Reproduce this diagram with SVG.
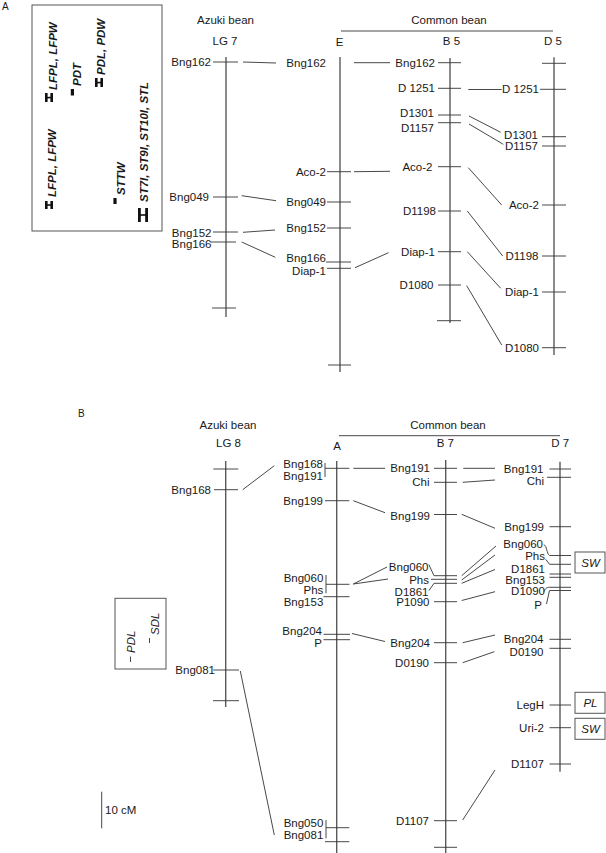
<svg xmlns="http://www.w3.org/2000/svg" width="606" height="853" viewBox="0 0 606 853">
<style>
.t{font-family:"Liberation Sans",Arial,sans-serif;font-size:11.5px;fill:#1a1a1a}
.e{text-anchor:end}
.m{text-anchor:middle}
.q{font-style:italic;font-weight:bold}
.i{font-style:italic}
.chr{stroke:#5a5a5a;stroke-width:1.4;fill:none}
.tk{stroke:#333;stroke-width:0.9;fill:none}
.cn{stroke:#333;stroke-width:0.9;fill:none}
.box{fill:none;stroke:#555;stroke-width:1}
.bar{fill:#111}
</style>
<rect width="606" height="853" fill="#fff"/>

<!-- Panel A -->
<g id="panelA-labels">
<text class="t" x="2" y="9.5" style="font-size:10px">A</text>
<text class="t m" x="225.5" y="24">Azuki bean</text>
<text class="t m" x="225" y="45">LG 7</text>
<text class="t m" x="449" y="24">Common bean</text>
<line class="tk" x1="341" y1="31" x2="553" y2="31"/>
<text class="t m" x="339.5" y="46">E</text>
<text class="t m" x="451.5" y="45">B 5</text>
<text class="t m" x="553" y="45">D 5</text>
</g>

<g id="qtl-box-A">
<rect class="box" x="32" y="5" width="130" height="226"/>
<rect class="bar" x="45" y="93" width="2.6" height="9"/><rect class="bar" x="50.4" y="93" width="2.6" height="9"/><rect class="bar" x="45" y="96.8" width="8" height="1.6"/>
<text class="t q" transform="translate(56.5,90) rotate(-90)">LFPL, LFPW</text>
<rect class="bar" x="70.8" y="89" width="3.2" height="6.5"/>
<text class="t q" transform="translate(80.5,86) rotate(-90)">PDT</text>
<rect class="bar" x="95" y="78" width="2.6" height="9"/><rect class="bar" x="100.4" y="78" width="2.6" height="9"/><rect class="bar" x="95" y="81.8" width="8" height="1.6"/>
<text class="t q" transform="translate(104.5,75) rotate(-90)">PDL, PDW</text>
<rect class="bar" x="45" y="201" width="2.6" height="8"/><rect class="bar" x="50.4" y="201" width="2.6" height="8"/><rect class="bar" x="45" y="204.2" width="8" height="1.6"/>
<text class="t q" transform="translate(55.5,197) rotate(-90)">LFPL, LFPW</text>
<rect class="bar" x="113.4" y="198" width="3.2" height="6"/>
<text class="t q" transform="translate(125,195) rotate(-90)">STTW</text>
<rect class="bar" x="138" y="208" width="2.8" height="14"/><rect class="bar" x="145.2" y="208" width="2.8" height="14"/><rect class="bar" x="138" y="214.2" width="10" height="1.6"/>
<text class="t q" transform="translate(148,202) rotate(-90)">ST7l, ST9l, ST10l, STL</text>
</g>

<g id="LG7">
<line class="chr" x1="226" y1="57" x2="226" y2="317"/>
<path class="tk" d="M213 62H238M213 197H238M213 232H238M210 242H236M212 308H236"/>
<text class="t e" x="211" y="66">Bng162</text>
<text class="t e" x="209" y="200.7">Bng049</text>
<text class="t e" x="211.5" y="236.5">Bng152</text>
<text class="t e" x="211.5" y="248">Bng166</text>
</g>

<g id="E">
<line class="chr" x1="340" y1="57" x2="340" y2="372"/>
<path class="tk" d="M327 171.7H351M327 202H351M327 228H351M326 262H351M327 268.3H351M328 365H351"/>
<text class="t e" x="326" y="66.7">Bng162</text>
<text class="t e" x="326" y="175.7">Aco-2</text>
<text class="t e" x="326" y="206">Bng049</text>
<text class="t e" x="326" y="232">Bng152</text>
<text class="t e" x="326" y="262.3">Bng166</text>
<text class="t e" x="326" y="274.7">Diap-1</text>
</g>

<g id="B5">
<line class="chr" x1="450" y1="58" x2="450" y2="323"/>
<path class="tk" d="M438 62.7H461M438 88.3H461M438 115H461M438 122.7H461M438 166.7H461M438 211H461M438 251.7H461M438 285H461M437 320.7H461"/>
<text class="t e" x="435" y="66.7">Bng162</text>
<text class="t e" x="435" y="92.3">D 1251</text>
<text class="t e" x="434" y="117.3">D1301</text>
<text class="t e" x="434" y="132.3">D1157</text>
<text class="t e" x="432.5" y="170.7">Aco-2</text>
<text class="t e" x="436" y="215">D1198</text>
<text class="t e" x="435" y="255.7">Diap-1</text>
<text class="t e" x="433.5" y="289">D1080</text>
</g>

<g id="D5">
<line class="chr" x1="554" y1="57.3" x2="554" y2="355"/>
<path class="tk" d="M542 63.3H566M540 89.3H566M542 136.7H566M542 146H566M542 205H566M542 256H566M542 292H566M542 347.7H566"/>
<text class="t e" x="539" y="93.3">D 1251</text>
<text class="t e" x="538" y="139">D1301</text>
<text class="t e" x="538" y="150">D1157</text>
<text class="t e" x="539" y="209">Aco-2</text>
<text class="t e" x="538.5" y="260">D1198</text>
<text class="t e" x="539" y="296">Diap-1</text>
<text class="t e" x="539" y="351.7">D1080</text>
</g>

<g id="connectors-A">
<path class="cn" d="M243 62L276 63M241.7 195.7L276 200.7M243 232.3L275 230M241.7 242L275.3 257.3M354 62.7H390M354 171.7L390 171.3M355 267.7L388.5 252.7M468.3 89.5H501.7M469 116L500.7 132.3M469 124L503.3 144.3M468.3 167.7L501.7 205M467.3 211L502.7 256M467.3 251.7L500.7 288.3M466.7 285.7L501.7 345"/>
</g>

<!-- Panel B -->
<g id="panelB-labels">
<text class="t" x="78" y="417.3" style="font-size:10px">B</text>
<text class="t m" x="228" y="429">Azuki bean</text>
<text class="t m" x="228.5" y="447">LG 8</text>
<text class="t m" x="448" y="428.5">Common bean</text>
<line class="tk" x1="339" y1="435.7" x2="560" y2="435.7"/>
<text class="t m" x="337" y="450">A</text>
<text class="t m" x="445.3" y="447.3">B 7</text>
<text class="t m" x="560.3" y="447">D 7</text>
</g>

<g id="qtl-box-B">
<rect class="box" x="115" y="598.3" width="51" height="70.7"/>
<line class="tk" x1="130.5" y1="656.5" x2="130.5" y2="662"/>
<text class="t i" transform="translate(134.5,653) rotate(-90)">PDL</text>
<line class="tk" x1="149.5" y1="638" x2="149.5" y2="643"/>
<text class="t i" transform="translate(158.5,635) rotate(-90)">SDL</text>
</g>

<g id="scale">
<line class="tk" x1="101.7" y1="791.7" x2="101.7" y2="828.3"/>
<text class="t" x="105" y="814">10 cM</text>
</g>

<g id="LG8">
<line class="chr" x1="225.7" y1="461" x2="225.7" y2="707"/>
<path class="tk" d="M213.3 469H238.3M214 489.7H238M213.3 670H239M213 700.7H239"/>
<text class="t e" x="211" y="494">Bng168</text>
<text class="t e" x="215" y="674">Bng081</text>
</g>

<g id="A">
<line class="chr" x1="336.7" y1="461" x2="336.7" y2="853"/>
<path class="tk" d="M325 463V477M325 468.3H349.3M325 500.7H349.3M326 575V593.3M326 584.3H349.5M323.5 596.7H349.5M323.5 634.3H350M323.5 639.7H350M326 820V838.3M326 827.7H349.3M325 841.7H349.3"/>
<text class="t e" x="323" y="468">Bng168</text>
<text class="t e" x="323" y="480">Bng191</text>
<text class="t e" x="323" y="504.7">Bng199</text>
<text class="t e" x="323.3" y="582.3">Bng060</text>
<text class="t e" x="323.3" y="594">Phs</text>
<text class="t e" x="323.3" y="605.7">Bng153</text>
<text class="t e" x="322" y="634.7">Bng204</text>
<text class="t e" x="322" y="647.3">P</text>
<text class="t e" x="323.3" y="826.7">Bng050</text>
<text class="t e" x="323.3" y="839">Bng081</text>
</g>

<g id="B7">
<line class="chr" x1="445.7" y1="460" x2="445.7" y2="853"/>
<path class="tk" d="M434 468.3H457M434 482.3H457M434 514.5H457M434 575.7H457M431 579.3H457M434 583.3H457M434 601.7H457M434 642.7H457M434 662.7H457M434 820.7H457M434 847.3H457"/>
<path class="tk" d="M428.8 564.5L434 575.7M429 590.5L434 583.3"/>
<text class="t e" x="430" y="472.3">Bng191</text>
<text class="t e" x="429.5" y="486.3">Chi</text>
<text class="t e" x="430" y="520">Bng199</text>
<text class="t e" x="428.5" y="570.7">Bng060</text>
<text class="t e" x="429" y="584">Phs</text>
<text class="t e" x="428.5" y="595.7">D1861</text>
<text class="t e" x="429.5" y="605.7">P1090</text>
<text class="t e" x="430" y="646.7">Bng204</text>
<text class="t e" x="429" y="666.7">D0190</text>
<text class="t e" x="429" y="824.7">D1107</text>
</g>

<g id="D7">
<line class="chr" x1="560" y1="461.7" x2="560" y2="771.7"/>
<path class="tk" d="M549.5 469H571M547 477.3H571M549.5 526.7H571M549.5 555.5H571M549.5 564.3H571M549.5 574H571M549.5 577.3H571M549.5 587.3H571M549.5 590.5H571M549.5 639.3H571M549.5 648.3H571M549.5 705H571M549.5 727.7H571M549.5 764H571"/>
<path class="tk" d="M543.8 544.8C547 545.5 546.5 553.5 549.5 555.5M545.7 559.3L549.5 564.3M544 591.5C545.5 588 547 587.3 549.5 587.3M546.5 604L549.5 590.5"/>
<text class="t e" x="543.5" y="473">Bng191</text>
<text class="t e" x="544" y="485">Chi</text>
<text class="t e" x="544" y="530.7">Bng199</text>
<text class="t e" x="543" y="548.3">Bng060</text>
<text class="t e" x="545" y="560">Phs</text>
<text class="t e" x="545" y="573.3">D1861</text>
<text class="t e" x="545" y="584">Bng153</text>
<text class="t e" x="545" y="595">D1090</text>
<text class="t e" x="542" y="609">P</text>
<text class="t e" x="543.5" y="643.3">Bng204</text>
<text class="t e" x="543.5" y="655.7">D0190</text>
<text class="t e" x="544" y="709">LegH</text>
<text class="t e" x="544" y="731.7">Uri-2</text>
<text class="t e" x="544" y="768">D1107</text>
</g>

<g id="trait-SW-1">
<rect class="box" x="575" y="552" width="30" height="21"/>
<text class="t i m" x="590.5" y="566.5">SW</text>
</g>
<g id="trait-PL">
<rect class="box" x="575" y="692.3" width="30" height="21"/>
<text class="t i m" x="590.5" y="707">PL</text>
</g>
<g id="trait-SW-2">
<rect class="box" x="575" y="718.3" width="30" height="21"/>
<text class="t i m" x="590.5" y="733">SW</text>
</g>

<g id="connectors-B">
<path class="cn" d="M242.7 489.7L274.3 465.7M240.3 671L274.3 835M353.3 468.3H385M353.3 500.7L385 512.7M353.3 584L387 567M353.3 584L388 579M352 633.5L385 641.5M463.3 468.3H495M462.7 482.3L495 480M461.7 514.3L495 528.3M461.7 575.7L496 546M461.7 580L495 555M461.7 583.3L495 569.5M461.7 600.5L495 591.7M462.7 642.7L495 635M462.7 662.7L494.3 651.7M462.7 820L495 770"/>
</g>
</svg>
